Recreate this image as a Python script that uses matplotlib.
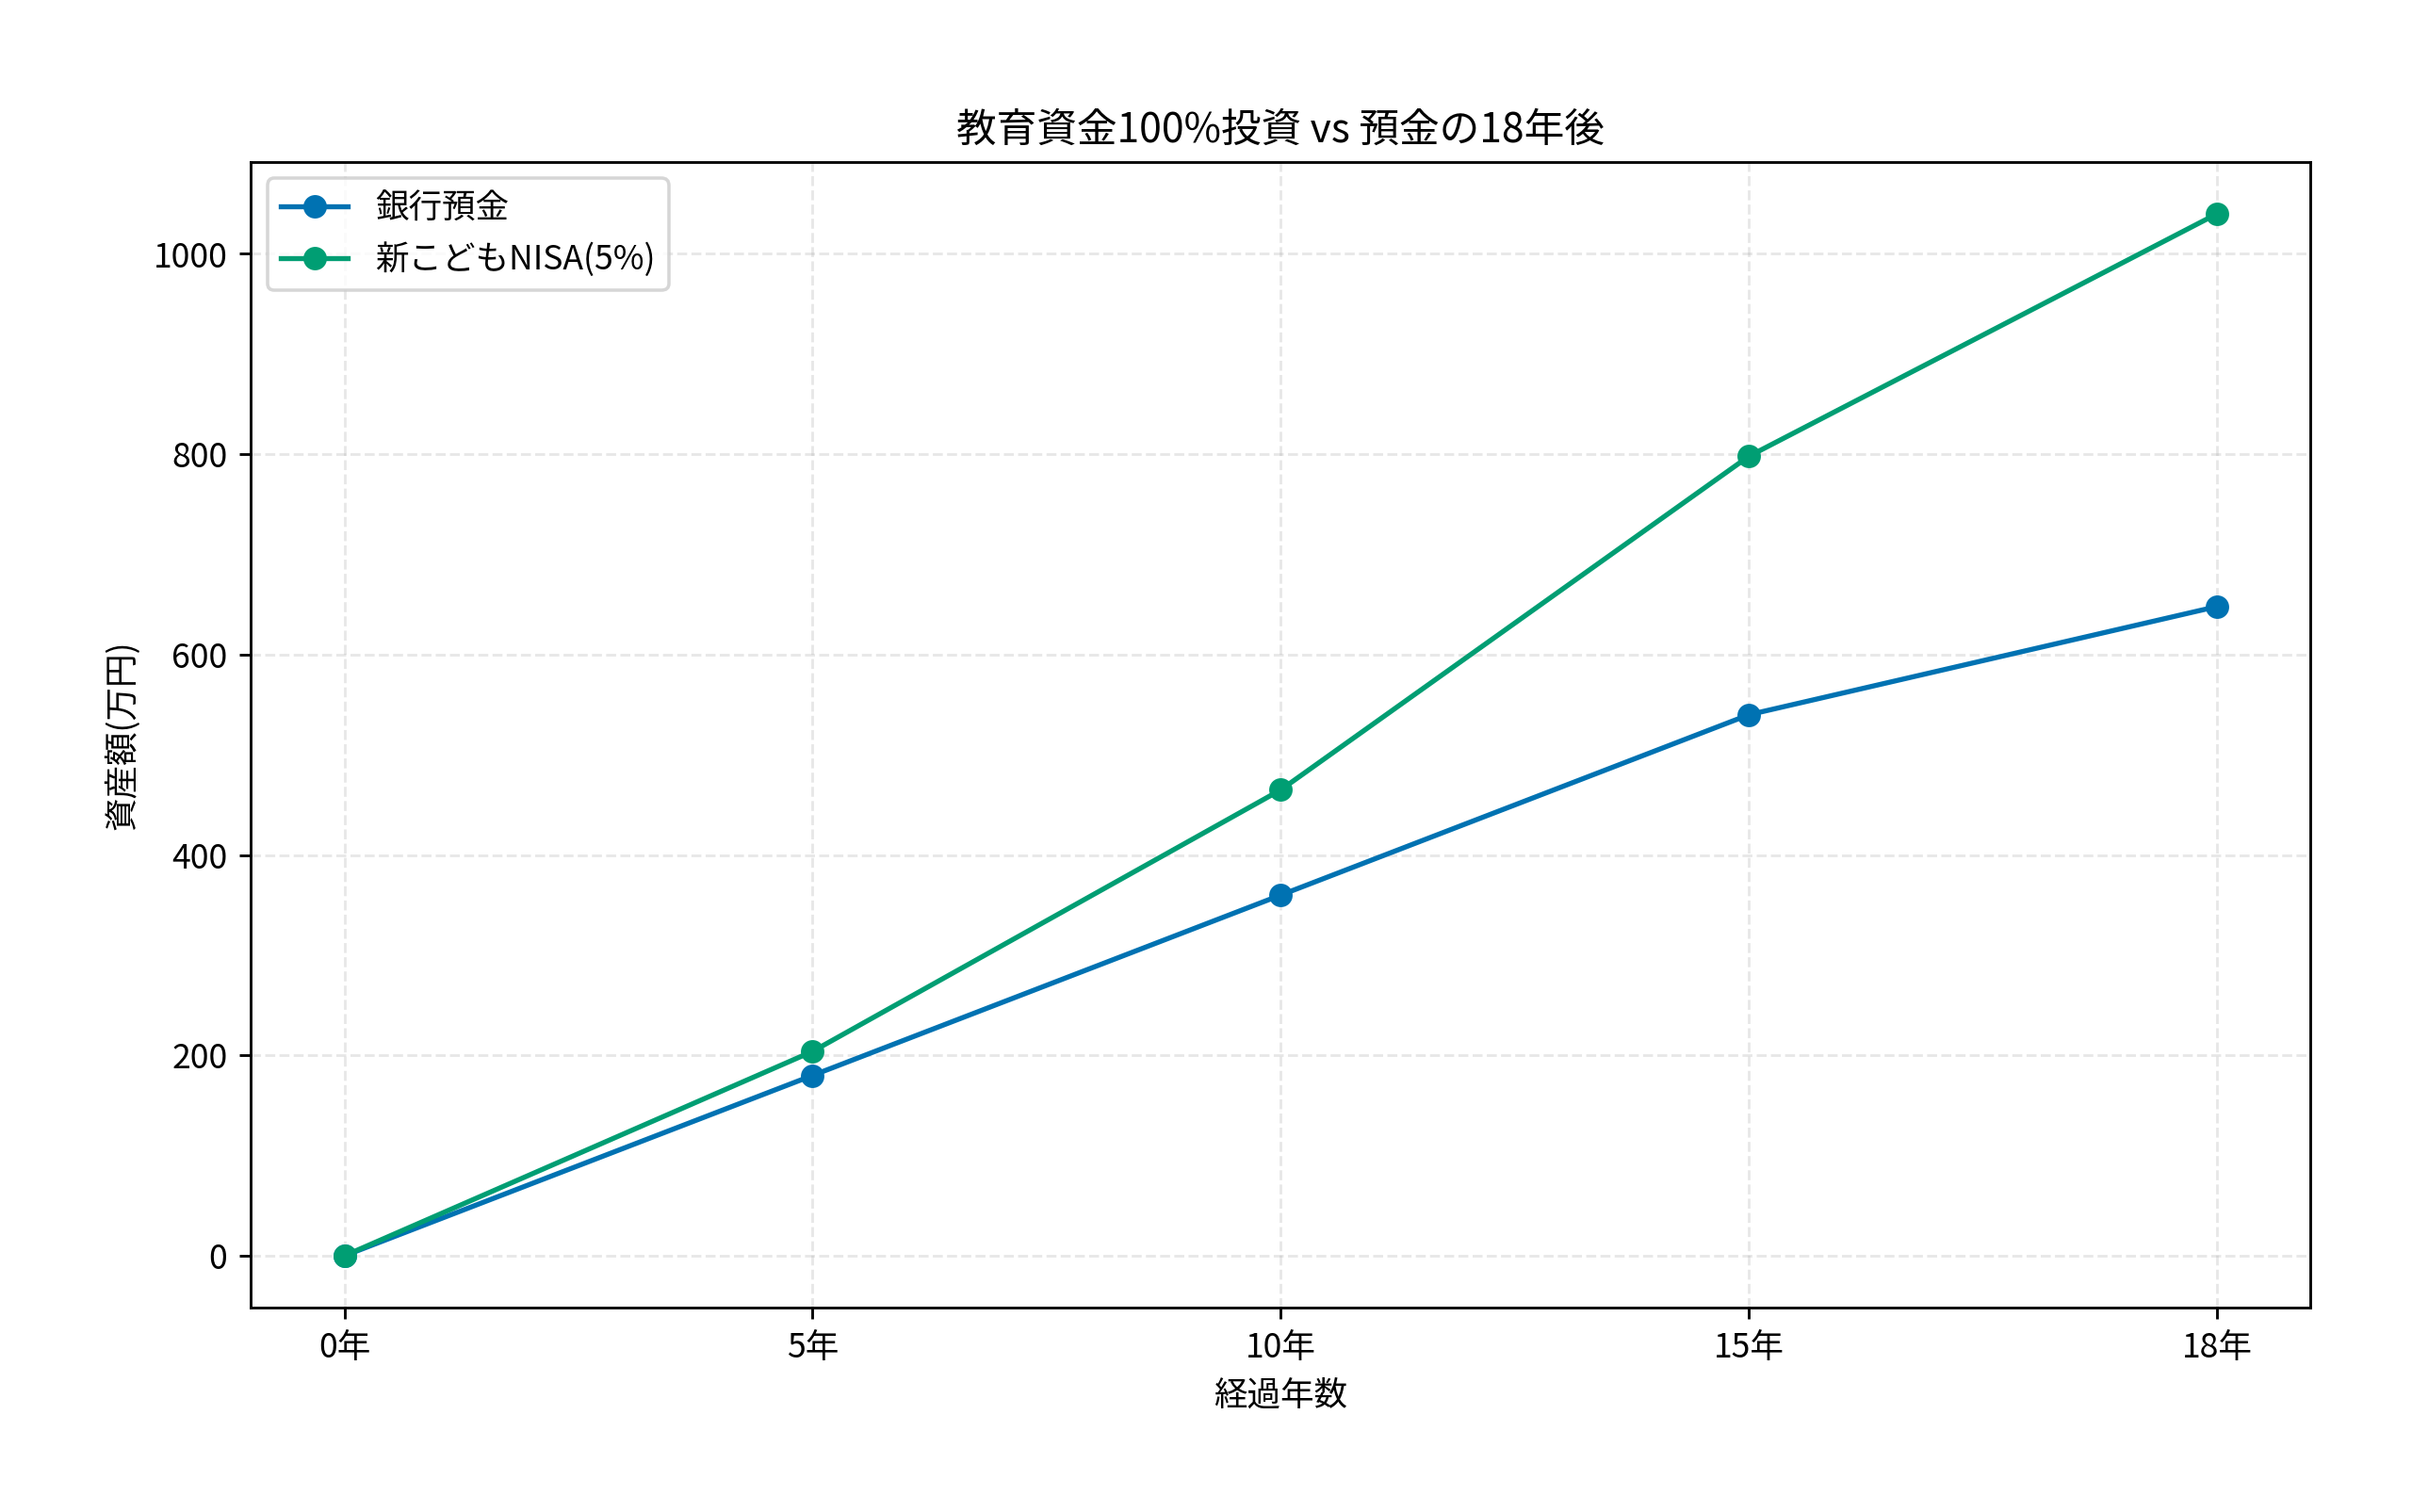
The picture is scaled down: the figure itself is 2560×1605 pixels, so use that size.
import matplotlib
matplotlib.use("Agg")
import matplotlib.pyplot as plt

plt.rcParams['font.family'] = ['Noto Sans CJK JP', 'DejaVu Sans']

years = ["0年", "5年", "10年", "15年", "18年"]
bank = [0, 180, 360, 540, 648]
nisa = [0, 204, 465, 798, 1040]

fig, ax = plt.subplots(figsize=(10, 6.27), dpi=256)
fig.subplots_adjust(left=0.104, right=0.958, top=0.893, bottom=0.135)
x = list(range(len(years)))
ax.plot(x, bank, marker='o', color='#0072B2', label='銀行預金', linewidth=1.5)
ax.plot(x, nisa, marker='o', color='#009E73', label='新こどもNISA(5%)', linewidth=1.5)
ax.set_xticks(x)
ax.set_xticklabels(years)
ax.set_title('教育資金100%投資 vs 預金の18年後')
ax.set_xlabel('経過年数')
ax.set_ylabel('資産額(万円)')
ax.grid(True, linestyle='--', alpha=0.3)
ax.legend(loc='upper left')
fig.savefig('out.png')
